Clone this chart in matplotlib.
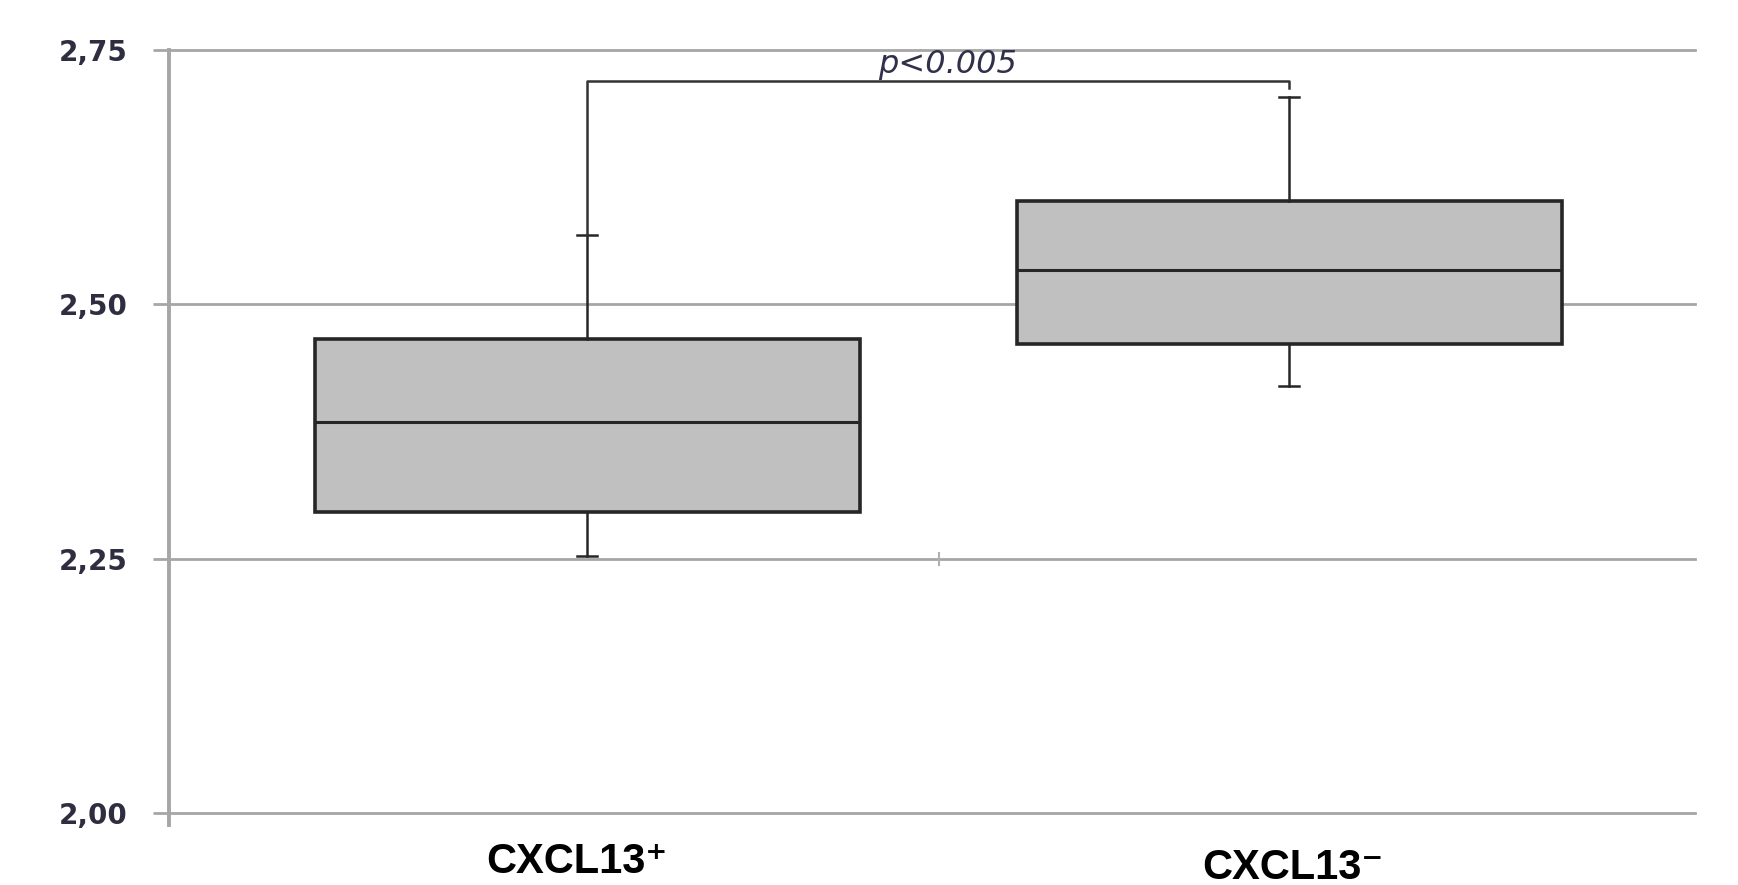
import matplotlib
matplotlib.use("Agg")
import matplotlib.pyplot as plt

# données
groupes = ["CXCL13\u207a", "CXCL13\u207b"]
q1 = [2.296, 2.461]
mediane = [2.384, 2.534]
q3 = [2.466, 2.602]
mini = [2.253, 2.420]
maxi = [2.568, 2.704]

yticks = [2.00, 2.25, 2.50, 2.75]
ylabels = ["2,00", "2,25", "2,50", "2,75"]

pos = [0.274, 0.734]
p_texte = "p<0.005"
p_niveau = 2.7195
p_fin_droite = 2.7126

gris = "#a6a6a6"
fonce = "#262626"

fig = plt.figure(figsize=(17.38, 8.85), dpi=100)
ax = fig.add_axes([0.0972, 0.0814, 0.8781, 0.8621])

ax.set_xlim(0, 1)
ax.set_ylim(2.0, 2.75)

# grille horizontale (style excel)
for v in yticks:
    ax.axhline(v, color=gris, lw=2, zorder=0.5, clip_on=False)

# axe vertical qui depasse un peu en bas
ax.plot([0, 0], [1.9885, 2.75], color=gris, lw=2.8, clip_on=False, zorder=0.6)
for s in ax.spines.values():
    s.set_visible(False)

ax.set_yticks(yticks)
ax.set_yticklabels(ylabels, fontsize=20, fontweight="bold", color="#2e2e40")
ax.tick_params(axis="y", direction="out", length=11.5, width=2, color=gris, pad=18)
ax.set_xticks([])

# boites
stats = []
for i in range(len(groupes)):
    stats.append({"med": mediane[i], "q1": q1[i], "q3": q3[i],
                  "whislo": mini[i], "whishi": maxi[i], "fliers": []})

ax.bxp(stats, positions=pos, widths=0.357, capwidths=0.013, patch_artist=True,
       showfliers=False, manage_ticks=False,
       boxprops=dict(facecolor="#c0c0c0", edgecolor=fonce, lw=2.6),
       medianprops=dict(color=fonce, lw=2.2),
       whiskerprops=dict(color=fonce, lw=1.8),
       capprops=dict(color=fonce, lw=1.8), zorder=2)

# crochet de significativite
ax.plot([pos[0], pos[0], pos[1], pos[1]],
        [maxi[0], p_niveau, p_niveau, p_fin_droite],
        color="#333333", lw=1.8, zorder=2)
ax.text(0.5105, 2.7274, p_texte, ha="center", va="baseline", fontsize=23,
        style="italic", color="#30304a", zorder=3)

# petite marque sur la ligne 2,25
ax.plot([0.5046, 0.5046], [2.2441, 2.2559], color="#b0b0b0", lw=1.5, zorder=0.7)

# etiquettes des groupes
tr = ax.get_xaxis_transform()
ax.text(0.267, -0.0786, groupes[0], transform=tr, ha="center", va="baseline",
        fontsize=30, fontweight="bold", family=["Liberation Sans", "DejaVu Sans"])
ax.text(0.7365, -0.087, groupes[1], transform=tr, ha="center", va="baseline",
        fontsize=30, fontweight="bold", family=["Liberation Sans", "DejaVu Sans"])

fig.savefig("out.png", dpi=100)
